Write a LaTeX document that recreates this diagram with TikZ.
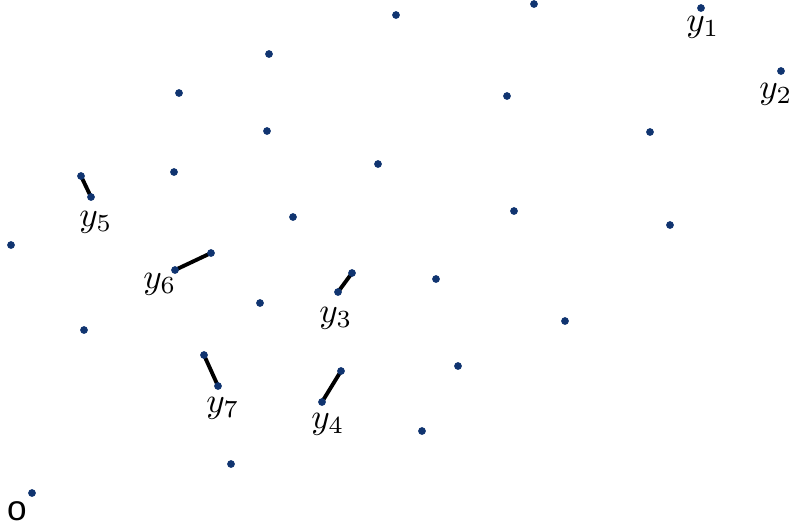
\documentclass[tikz,border=0pt]{standalone}
\usepackage{amsmath, amssymb}
\usepackage{fontspec}
\newfontfamily\labelsans{Liberation Sans}
\usepackage{tikz}
\definecolor{dotblue}{RGB}{16,52,112}

\begin{document}
\begin{tikzpicture}[x=0.01cm,y=-0.01cm,
		dot/.style={fill=dotblue},
		link/.style={line width=1.1pt},
		lab/.style={font=\fontsize{10}{12}\selectfont, inner sep=0pt}]
	\useasboundingbox (0,0) rectangle (790,529);

	% Free points
	\coordinate (q1) at (396,15);
	\coordinate (q2) at (534,4);
	\coordinate (q3) at (269,54);
	\coordinate (q4) at (179,93);
	\coordinate (q5) at (507,96);
	\coordinate (q6) at (267,131);
	\coordinate (q7) at (650,132);
	\coordinate (q8) at (378,164);
	\coordinate (q9) at (174,172);
	\coordinate (q10) at (514,211);
	\coordinate (q11) at (670,225);
	\coordinate (q12) at (293,217);
	\coordinate (q13) at (11,245);
	\coordinate (q14) at (436,279);
	\coordinate (q15) at (260,303);
	\coordinate (q16) at (565,321);
	\coordinate (q17) at (84,330);
	\coordinate (q18) at (458,366);
	\coordinate (q19) at (422,431);
	\coordinate (q20) at (231,464);
	\coordinate (orig) at (32,493);
	\foreach \i in {1,...,20}
		\fill[dot] (q\i) circle (1.1pt);
	\fill[dot] (orig) circle (1.1pt);

	% Labelled points y_i and their partners
	\coordinate (y1) at (701,8);
	\coordinate (y2) at (781,71);
	\coordinate (y3) at (338,292);   \coordinate (z3) at (352,273);
	\coordinate (y4) at (322,402);   \coordinate (z4) at (341,371);
	\coordinate (y5) at (91,197);    \coordinate (z5) at (81,176);
	\coordinate (y6) at (175,270);   \coordinate (z6) at (211,253);
	\coordinate (y7) at (218,386);   \coordinate (z7) at (204,355);

	\draw[link] (y3) -- (z3);
	\draw[link] (y4) -- (z4);
	\draw[link] (y5) -- (z5);
	\draw[link] (y6) -- (z6);
	\draw[link] (y7) -- (z7);

	\foreach \i in {1,...,7}
		\fill[dot] (y\i) circle (1.1pt);
	\foreach \i in {3,...,7}
		\fill[dot] (z\i) circle (1.1pt);

	% Labels
	\node[lab] (ly1) at (703,27) {$y_1$};
	\node[lab] (ly2) at (776,94) {$y_2$};
	\node[lab] (ly3) at (336,318) {$y_3$};
	\node[lab] (ly4) at (328,424) {$y_4$};
	\node[lab] (ly5) at (96,222) {$y_5$};
	\node[lab] (ly6) at (160,284) {$y_6$};
	\node[lab] (ly7) at (223,408) {$y_7$};
	\node[inner sep=0pt, font=\labelsans\fontsize{10}{12}\selectfont] (lo) at (17,511) {o};
\end{tikzpicture}
\end{document}
